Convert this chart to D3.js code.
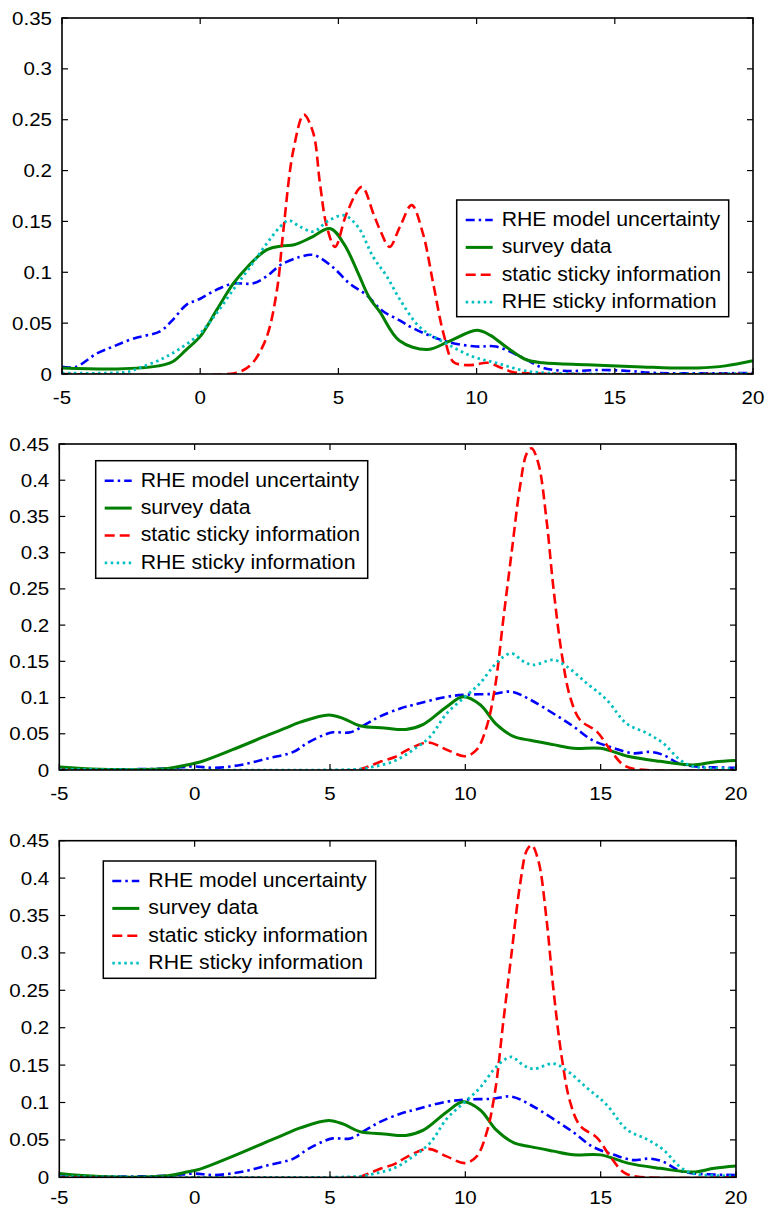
<!DOCTYPE html>
<html>
<head>
<meta charset="utf-8">
<script src="https://cdn.jsdelivr.net/npm/d3@7"></script>
<style>
  html, body { margin: 0; padding: 0; background: #fff; }
  svg { display: block; }
  text { font-family: "Liberation Sans", Arial, Helvetica, sans-serif; fill: #000; }
</style>
</head>
<body>
<script>
// ---- data: density estimates, [inflation %, density] ----
const seriesNames = ["RHE model uncertainty", "survey data", "static sticky information", "RHE sticky information"];
const xTickValues = [-5, 0, 5, 10, 15, 20];
const xTickLabels = ["-5", "0", "5", "10", "15", "20"];
const yTicksTop = [0, 0.05, 0.1, 0.15, 0.2, 0.25, 0.3, 0.35];
const yTickLabelsTop = ["0", "0.05", "0.1", "0.15", "0.2", "0.25", "0.3", "0.35"];
const yTicksLower = [0, 0.05, 0.1, 0.15, 0.2, 0.25, 0.3, 0.35, 0.4, 0.45];
const yTickLabelsLower = ["0", "0.05", "0.1", "0.15", "0.2", "0.25", "0.3", "0.35", "0.4", "0.45"];

// top panel
const p1Blue = [[-5,0.007],[-4.5,0.007],[-3.75,0.02],[-3.15,0.027],[-2.4,0.035],[-1.45,0.042],[-1,0.053],[-0.5,0.068],[0,0.074],[0.6,0.083],[1.2,0.089],[1.9,0.089],[2.4,0.096],[2.9,0.107],[3.6,0.115],[4.1,0.117],[4.8,0.105],[5.4,0.089],[6.0,0.078],[6.6,0.062],[7.2,0.053],[7.7,0.045],[8.9,0.032],[10,0.027],[10.7,0.027],[11.6,0.017],[12.3,0.007],[12.8,0.004],[13.5,0.003],[14.5,0.004],[15.5,0.003],[16.5,0.001],[20,0.001]];
const p1Green = [[-5,0.006],[-3,0.005],[-1.5,0.008],[-1,0.012],[-0.5,0.024],[0,0.037],[0.6,0.063],[1.2,0.089],[1.7,0.105],[2.4,0.122],[3.0,0.126],[3.4,0.127],[4.0,0.134],[4.7,0.143],[5.2,0.128],[5.7,0.1],[6.1,0.076],[6.5,0.061],[7.2,0.033],[8.2,0.024],[9.0,0.032],[10,0.043],[10.5,0.038],[11.1,0.026],[11.8,0.014],[12.4,0.011],[14,0.009],[16,0.007],[17,0.006],[18,0.006],[19,0.008],[20,0.013]];
const p1Red = [[-5,0],[1.0,0],[1.5,0.003],[1.9,0.011],[2.4,0.036],[2.78,0.083],[3.0,0.139],[3.37,0.22],[3.75,0.255],[4.09,0.237],[4.33,0.188],[4.58,0.145],[4.88,0.125],[5.3,0.158],[5.85,0.184],[6.26,0.158],[6.5,0.142],[6.85,0.125],[7.23,0.145],[7.65,0.166],[8.06,0.138],[8.43,0.089],[8.8,0.04],[9.15,0.012],[9.5,0.009],[9.9,0.009],[10.4,0.011],[10.9,0.006],[11.3,0.002],[12,0.0005],[20,0]];
const p1Cyan = [[-5,0.001],[-2.65,0.002],[-2.2,0.006],[-1.45,0.014],[-0.73,0.025],[0,0.04],[0.6,0.06],[1.2,0.083],[1.8,0.105],[2.4,0.128],[2.9,0.145],[3.2,0.151],[3.6,0.145],[4.1,0.14],[4.6,0.15],[5.2,0.156],[5.7,0.145],[6.26,0.115],[6.75,0.096],[7.23,0.073],[7.95,0.046],[8.9,0.03],[9.87,0.017],[10.7,0.011],[11.6,0.004],[12.5,0.001],[20,0.0005]];

// middle panel
const p2Blue = [[-5,0.001],[-1,0.002],[-0.05,0.005],[0.7,0.003],[1.7,0.007],[2.7,0.016],[3.65,0.025],[4.15,0.037],[4.75,0.048],[5.1,0.052],[5.75,0.052],[6.36,0.064],[6.85,0.074],[7.6,0.085],[8.1,0.09],[9.3,0.101],[10.05,0.104],[11.0,0.105],[11.7,0.108],[12.4,0.097],[13.25,0.078],[14,0.06],[14.7,0.041],[15.5,0.03],[16.2,0.023],[16.8,0.025],[17.3,0.021],[17.9,0.009],[18.5,0.005],[20,0.003]];
const p2Green = [[-5,0.004],[-3.5,0.001],[-1,0.002],[-0.3,0.007],[0.2,0.011],[1.4,0.028],[2.7,0.048],[3.3,0.057],[3.9,0.066],[4.95,0.076],[5.5,0.071],[6.1,0.061],[7.0,0.058],[7.8,0.056],[8.45,0.063],[9.3,0.087],[9.92,0.101],[10.55,0.09],[11.15,0.063],[11.8,0.046],[12.4,0.041],[13.25,0.035],[14,0.03],[15,0.03],[16,0.019],[17.2,0.012],[18.4,0.007],[19.2,0.011],[20,0.013]];
const p2Red = [[-5,0],[6.0,0],[6.36,0.004],[6.9,0.012],[7.4,0.018],[7.83,0.027],[8.63,0.038],[9.31,0.028],[9.99,0.019],[10.42,0.028],[10.79,0.06],[11.1,0.115],[11.4,0.207],[11.71,0.3],[12.02,0.391],[12.27,0.437],[12.45,0.444],[12.7,0.423],[13.0,0.345],[13.25,0.253],[13.56,0.161],[13.87,0.101],[14.24,0.069],[14.86,0.053],[15.35,0.028],[15.84,0.007],[16.33,0.001],[20,0]];
const p2Cyan = [[-5,0.001],[6.0,0.001],[6.4,0.003],[7.35,0.012],[8.08,0.028],[8.7,0.046],[9.31,0.078],[9.99,0.101],[10.55,0.12],[11.03,0.143],[11.4,0.156],[11.71,0.161],[12.14,0.15],[12.51,0.145],[13.25,0.152],[13.74,0.143],[14.48,0.12],[15.22,0.097],[15.96,0.064],[16.7,0.051],[17.31,0.037],[17.93,0.014],[18.42,0.005],[20,0.002]];

// bottom panel
const p3Blue = [[-5,0.001],[-1,0.002],[-0.05,0.005],[0.7,0.003],[1.7,0.007],[2.7,0.016],[3.65,0.025],[4.15,0.037],[4.75,0.048],[5.1,0.052],[5.75,0.052],[6.36,0.064],[6.85,0.074],[7.6,0.085],[8.1,0.09],[9.3,0.101],[10.05,0.104],[11.0,0.105],[11.7,0.108],[12.4,0.097],[13.25,0.078],[14,0.06],[14.7,0.041],[15.5,0.03],[16.2,0.023],[16.8,0.025],[17.3,0.021],[17.9,0.009],[18.5,0.005],[20,0.003]];
const p3Green = [[-5,0.005],[-3.5,0.001],[-1,0.002],[-0.3,0.007],[0.2,0.011],[1.4,0.028],[2.7,0.048],[3.3,0.057],[3.9,0.066],[4.95,0.076],[5.5,0.071],[6.1,0.061],[7.0,0.058],[7.8,0.056],[8.45,0.063],[9.3,0.087],[9.92,0.101],[10.55,0.09],[11.15,0.063],[11.8,0.046],[12.4,0.041],[13.25,0.035],[14,0.03],[15,0.03],[16,0.019],[17.2,0.012],[18.4,0.007],[19.2,0.012],[20,0.015]];
const p3Red = [[-5,0],[6.0,0],[6.36,0.004],[6.9,0.012],[7.4,0.018],[7.83,0.027],[8.63,0.038],[9.31,0.028],[9.99,0.019],[10.42,0.028],[10.79,0.06],[11.1,0.115],[11.4,0.207],[11.71,0.3],[12.02,0.391],[12.27,0.437],[12.45,0.444],[12.7,0.423],[13.0,0.345],[13.25,0.253],[13.56,0.161],[13.87,0.101],[14.24,0.069],[14.86,0.053],[15.35,0.028],[15.84,0.007],[16.33,0.001],[20,0]];
const p3Cyan = [[-5,0.001],[6.0,0.001],[6.4,0.003],[7.35,0.012],[8.08,0.028],[8.7,0.046],[9.31,0.078],[9.99,0.101],[10.55,0.12],[11.03,0.143],[11.4,0.156],[11.71,0.161],[12.14,0.15],[12.51,0.145],[13.25,0.152],[13.74,0.143],[14.48,0.12],[15.22,0.097],[15.96,0.064],[16.7,0.051],[17.31,0.037],[17.93,0.014],[18.42,0.005],[20,0.002]];

// ---- styles ----
const styles = [
  { color: "#0000ff", width: 2.6, dash: "9,4,2.5,4" },
  { color: "#007f00", width: 3.0, dash: null },
  { color: "#ff0000", width: 2.6, dash: "10,5" },
  { color: "#00bfbf", width: 2.8, dash: "2.5,3.5" }
];

// ---- layout ----
const W = 768, H = 1209;
const panels = [
  { l: 62, t: 18, r: 753, b: 374, yMax: 0.35, yTicks: yTicksTop, yLabels: yTickLabelsTop, xLabelGap: 29.5,
    series: [p1Blue, p1Green, p1Red, p1Cyan], legend: { x: 456.7, y: 200, w: 272, h: 116.7 } },
  { l: 59.3, t: 444, r: 736, b: 770, yMax: 0.45, yTicks: yTicksLower, yLabels: yTickLabelsLower, xLabelGap: 29.5,
    series: [p2Blue, p2Green, p2Red, p2Cyan], legend: { x: 95.7, y: 460.7, w: 272, h: 117.6 } },
  { l: 59.3, t: 840.7, r: 736, b: 1177.3, yMax: 0.45, yTicks: yTicksLower, yLabels: yTickLabelsLower, xLabelGap: 27,
    series: [p3Blue, p3Green, p3Red, p3Cyan], legend: { x: 103.3, y: 861, w: 272.4, h: 117.3 } }
];

const svg = d3.select("body").append("svg").attr("width", W).attr("height", H);

const tickFont = 18.2, tickStretch = 1.13;
const legendFont = 19.5, legendStretch = 1.09;
const tickLen = 6;

panels.forEach((p, i) => {
  const x = d3.scaleLinear().domain([-5, 20]).range([p.l, p.r]);
  const y = d3.scaleLinear().domain([0, p.yMax]).range([p.b, p.t]);
  const g = svg.append("g");

  const clipId = "clip" + i;
  g.append("clipPath").attr("id", clipId)
    .append("rect").attr("x", p.l).attr("y", p.t - 2).attr("width", p.r - p.l).attr("height", p.b - p.t + 2);

  // curves (smooth through the sampled densities)
  const line = d3.line()
    .x(d => x(d[0]))
    .y(d => y(d[1]))
    .curve(d3.curveCatmullRom.alpha(0.5));
  const lines = g.append("g").attr("clip-path", `url(#${clipId})`);
  p.series.forEach((s, k) => {
    const st = styles[k];
    lines.append("path").datum(s)
      .attr("d", line)
      .attr("fill", "none")
      .attr("stroke", st.color)
      .attr("stroke-width", st.width)
      .attr("stroke-dasharray", st.dash)
      .attr("stroke-linejoin", "round");
  });

  // inward ticks on all four sides
  const ticks = g.append("g").attr("stroke", "#000").attr("stroke-width", 1.2);
  xTickValues.forEach(v => {
    ticks.append("line").attr("x1", x(v)).attr("x2", x(v)).attr("y1", p.b).attr("y2", p.b - tickLen);
    ticks.append("line").attr("x1", x(v)).attr("x2", x(v)).attr("y1", p.t).attr("y2", p.t + tickLen);
  });
  p.yTicks.forEach(v => {
    ticks.append("line").attr("x1", p.l).attr("x2", p.l + tickLen).attr("y1", y(v)).attr("y2", y(v));
    ticks.append("line").attr("x1", p.r).attr("x2", p.r - tickLen).attr("y1", y(v)).attr("y2", y(v));
  });

  // frame
  g.append("rect").attr("x", p.l).attr("y", p.t).attr("width", p.r - p.l).attr("height", p.b - p.t)
    .attr("fill", "none").attr("stroke", "#000").attr("stroke-width", 1.6);

  // tick labels
  p.yTicks.forEach((v, j) => {
    g.append("text")
      .attr("transform", `translate(${p.l - 10},${y(v) + 6.5}) scale(${tickStretch},1)`)
      .attr("text-anchor", "end")
      .attr("font-size", tickFont)
      .text(p.yLabels[j]);
  });
  xTickValues.forEach((v, j) => {
    g.append("text")
      .attr("transform", `translate(${x(v)},${p.b + p.xLabelGap}) scale(${tickStretch},1)`)
      .attr("text-anchor", "middle")
      .attr("font-size", tickFont)
      .text(xTickLabels[j]);
  });

  // legend
  const L = p.legend;
  const lg = g.append("g");
  lg.append("rect").attr("x", L.x).attr("y", L.y).attr("width", L.w).attr("height", L.h)
    .attr("fill", "#fff").attr("stroke", "#000").attr("stroke-width", 1.5);
  seriesNames.forEach((name, k) => {
    const cy = L.y + 20 + k * 27.4;
    const st = styles[k];
    lg.append("line")
      .attr("x1", L.x + 9).attr("x2", L.x + 36).attr("y1", cy).attr("y2", cy)
      .attr("stroke", st.color).attr("stroke-width", st.width)
      .attr("stroke-dasharray", st.dash);
    lg.append("text")
      .attr("transform", `translate(${L.x + 45},${cy + 5.8}) scale(${legendStretch},1)`)
      .attr("font-size", legendFont)
      .text(name);
  });
});
</script>
</body>
</html>
